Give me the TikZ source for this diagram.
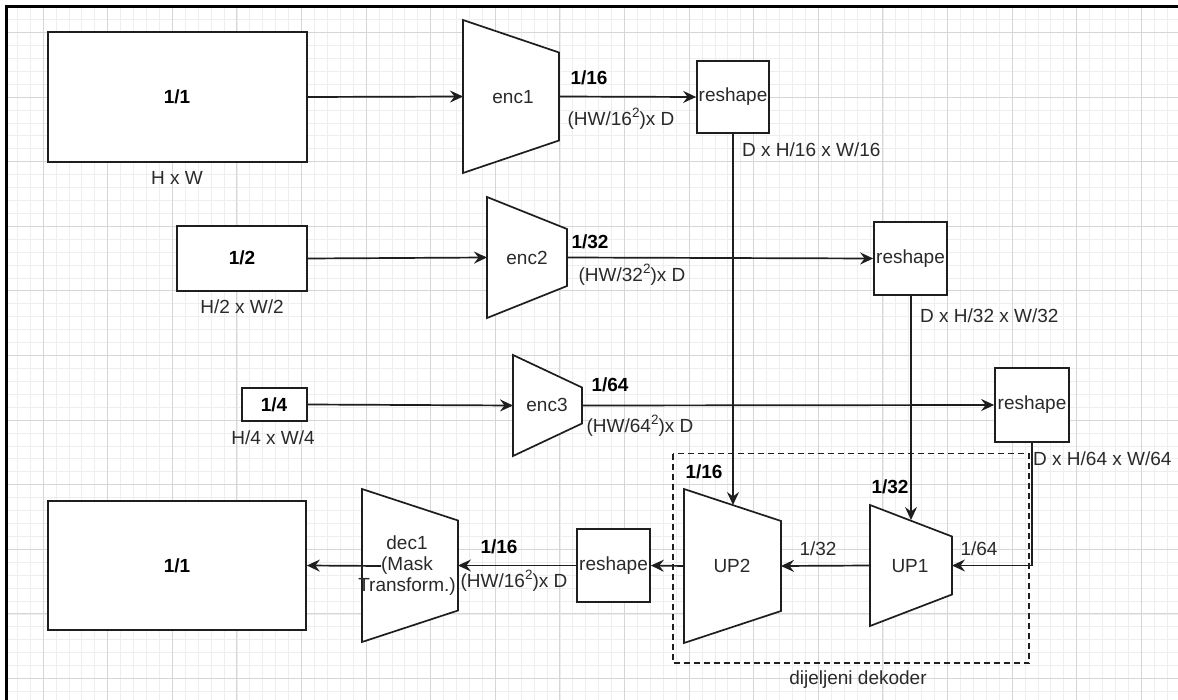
\documentclass[tikz,border=0pt]{standalone}
\usepackage{fontspec}
\setmainfont{Liberation Sans}
\usetikzlibrary{arrows.meta}
\definecolor{ln}{HTML}{1E1E1E}
\definecolor{tx}{HTML}{2A2A2A}
\definecolor{gmaj}{HTML}{D6D6D6}
\definecolor{gmin}{HTML}{EEEEEE}
\newcommand\trapz[6]{%
  \draw[trap] (#2,#3-#5/2) -- (#2+#4,#3-#6/2) -- (#2+#4,#3+#6/2) -- (#2,#3+#5/2) -- cycle;
  \coordinate (#1W) at (#2,#3);
  \coordinate (#1E) at (#2+#4,#3);}
\newcommand\supsq{\raisebox{0.42em}{\fontsize{13.5pt}{14pt}\selectfont 2}}
\begin{document}
\begin{tikzpicture}[x=1pt,y=-1pt,
  every node/.style={font=\fontsize{19pt}{21pt}\selectfont, text=tx, inner sep=0pt},
  bl/.style={font=\fontsize{19pt}{21pt}\selectfont\bfseries, text=black},
  box/.style={draw=ln, line width=1.7pt, fill=white},
  trap/.style={draw=ln, line width=1.7pt, fill=white, line join=miter},
  conn/.style={draw=ln, line width=1.7pt, -{Stealth[length=13pt,width=12pt,inset=4.5pt]}},
  grp/.style={draw=ln, line width=1.6pt, dash pattern=on 6pt off 4pt},
]
\useasboundingbox (0,0) rectangle (1178,700);
\fill[white] (0,0) rectangle (1178,700);
% grid
\begin{scope}
\clip (7,7) rectangle (1178,700);
\foreach \k in {-3,...,87} {\draw[gmin, line width=0.6pt] ({43+12.92*\k},0) -- ({43+12.92*\k},700);}
\foreach \k in {-3,...,52} {\draw[gmin, line width=0.6pt] (0,{32.4+12.92*\k}) -- (1178,{32.4+12.92*\k});}
\foreach \k in {0,...,17} {\draw[gmaj, line width=0.8pt] ({43+64.6*\k},0) -- ({43+64.6*\k},700);}
\foreach \k in {0,...,10} {\draw[gmaj, line width=0.8pt] (0,{32.4+64.6*\k}) -- (1178,{32.4+64.6*\k});}
\end{scope}
\draw[black, line width=2.4pt] (6.5,700) -- (6.5,6.5) -- (1178,6.5);

% input boxes
\node[box, minimum width=259pt, minimum height=130pt] (in1) at (177.5,97) {};
\node[box, minimum width=130pt, minimum height=65pt] (in2) at (242,258.5) {};
\node[box, minimum width=65pt, minimum height=33pt] (in4) at (274.5,404.5) {};
\node[box, minimum width=258pt, minimum height=129pt] (out) at (177,565.5) {};

% encoders / decoders
\trapz{enc1}{463}{96.5}{96}{153}{88}
\trapz{enc2}{487}{257.5}{80}{121}{57}
\trapz{enc3}{513}{405.5}{69}{101}{36}
\trapz{up2}{684}{566}{97}{154}{90}
\trapz{up1}{870}{565.5}{82}{121}{58}
\trapz{dec1}{362}{565.5}{96}{153}{90}
\coordinate (up2N) at (733,505);
\coordinate (up1N) at (911,520);
\coordinate (dec1out) at (381,566);

% reshape boxes
\node[box, minimum width=72pt, minimum height=72pt] (rs1) at (733,97) {reshape};
\node[box, minimum width=73pt, minimum height=73pt] (rs2) at (910.5,258.5) {reshape};
\node[box, minimum width=74pt, minimum height=74pt] (rs3) at (1032,405) {reshape};
\node[box, minimum width=73pt, minimum height=73pt] (rs4) at (613.5,565.5) {reshape};

% shared decoder group
\draw[grp] (673,453.5) rectangle (1029,663);

% connectors
\draw[conn] (in1.east) -- (enc1W);
\draw[conn] (enc1E) -- (rs1.west);
\draw[conn] (rs1.south) -- (up2N);
\draw[conn] (in2.east) -- (enc2W);
\draw[conn] (enc2E) -- (rs2.west);
\draw[conn] (rs2.south -| up1N) -- (up1N);
\draw[conn] (in4.east) -- (enc3W);
\draw[conn] (enc3E) -- (rs3.west);
\draw[conn] (rs3.south) |- (up1E);
\draw[conn] (up1W) -- (up2E);
\draw[conn] (up2W) -- (rs4.east);
\draw[conn] (rs4.west) -- (dec1E);
\draw[conn] (dec1out) -- (out.east);

% labels
\node[bl] (l11) at (177,97) {1/1};
\node (lhw) at (177,178) {H x W};
\node[bl] (l12) at (242,258) {1/2};
\node (lhw2) at (242,307) {H/2 x W/2};
\node[bl] (l14) at (274,405) {1/4};
\node (lhw4) at (273,438) {H/4 x W/4};
\node (tenc1) at (513,97) {enc1};
\node (tenc2) at (527,258) {enc2};
\node (tenc3) at (547,405) {enc3};
\node[bl] (s16) at (589,78) {1/16};
\node (d16) at (621,119) {(HW/16\supsq)x D};
\node[bl] (s32) at (590,242) {1/32};
\node (d32) at (632,275) {(HW/32\supsq)x D};
\node[bl] (s64) at (610,385) {1/64};
\node (d64) at (640,426) {(HW/64\supsq)x D};
\node[anchor=west] (r16) at (742,150) {D x H/16 x W/16};
\node[anchor=west] (r32) at (920,316) {D x H/32 x W/32};
\node[anchor=west] (r64) at (1033,459) {D x H/64 x W/64};
\node[bl] (u16) at (704,472) {1/16};
\node[bl] (u32) at (890,487) {1/32};
\node (tup2) at (732,566) {UP2};
\node (tup1) at (910,566) {UP1};
\node (m32) at (818,549) {1/32};
\node (m64) at (979,549) {1/64};
\node (grpl) at (858,680) {dijeljeni dekoder};
\node[bl] (lo11) at (177,566) {1/1};
\node[align=center] (tdec1) at (407,566) {dec1\\(Mask\\Transform.)};
\node[bl] (o16) at (499,547) {1/16};
\node (od16) at (514,581) {(HW/16\supsq)x D};
\end{tikzpicture}
\end{document}
